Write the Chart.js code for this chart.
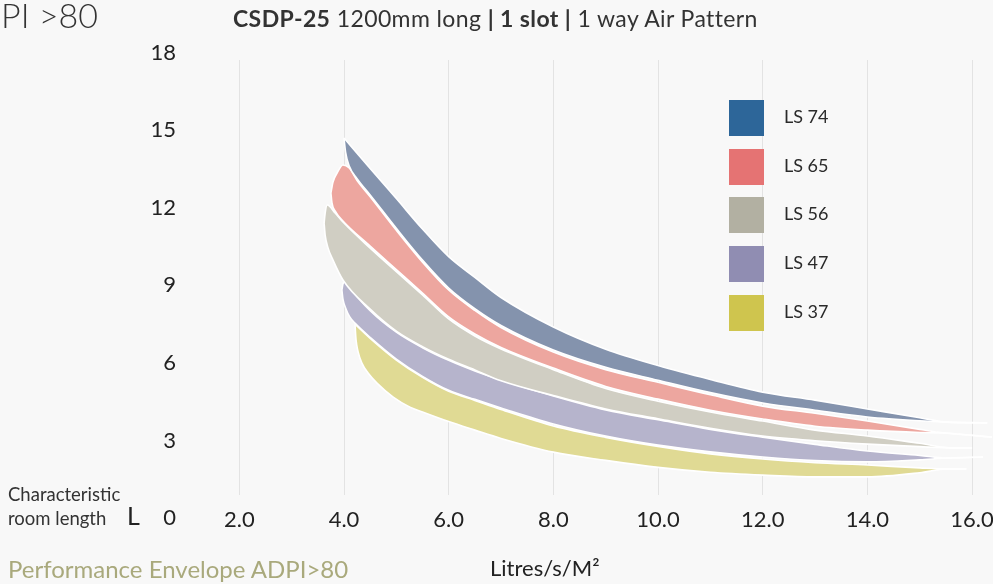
<!DOCTYPE html>
<html>
<head>
<meta charset="utf-8">
<script src="https://cdn.jsdelivr.net/npm/chart.js@4.4.1/dist/chart.umd.min.js"></script>
<style>
  body { margin: 0; background: #f8f8f8; font-family: 'Lato', sans-serif; color: #2a2a2a; }
  #wrap { position: relative; width: 993px; height: 584px; overflow: hidden; }
  #wrap canvas { position: absolute; left: 0; top: 0; }
  .txt { position: absolute; white-space: nowrap; line-height: 1; }
  #legend .sw { position: absolute; width: 35px; height: 36px; }
  #legend .lb { position: absolute; font-size: 18px; line-height: 18px; }
</style>
</head>
<body>
<div id="wrap">
  <canvas id="chart" width="993" height="584"></canvas>
  <div class="txt" style="left:1px;top:-2px;font-size:34px;font-weight:300;color:#333">PI &gt;80</div>
  <div class="txt" style="left:233px;top:7px;font-size:23px;letter-spacing:0.4px;color:#333"><b>CSDP-25</b> 1200mm long <b>| 1 slot |</b> 1 way Air Pattern</div>
  <div class="txt" style="left:8px;top:482px;font-size:18.5px;line-height:24px;color:#333">Characteristic<br>room length</div>
  <div class="txt" style="left:127px;top:503px;font-size:25px;color:#222">L</div>
  <div class="txt" style="left:8px;top:557px;font-size:24px;color:#a9a97c">Performance Envelope ADPI&gt;80</div>
  <div class="txt" style="left:490px;top:557px;font-size:22px;color:#222">Litres/s/M²</div>
  <div id="legend"></div>
</div>
<script>
// Bandas de comportamiento (limite superior / inferior) por modelo
const seriesNames = ['LS 74', 'LS 65', 'LS 56', 'LS 47', 'LS 37'];
const legendColors = ['#2d6699', '#e57373', '#b2b0a2', '#908db2', '#cfc54e'];
const bandColors = ['#8493ad', '#eda69f', '#d0cec3', '#b6b4cc', '#e0da94'];

const xTicks = [2, 4, 6, 8, 10, 12, 14, 16];
const yTicks = [0, 3, 6, 9, 12, 15, 18];

const ls74Top = [[4.00,14.70],[4.5,13.52],[5,12.36],[5.5,11.18],[6,10.11],[6.5,9.31],[7,8.53],[8,7.39],[9,6.53],[10,5.90],[11,5.36],[12,4.87],[13,4.56],[14,4.22],[15,3.88],[15.52,3.71],[16.29,3.68]];
const ls74Bottom = [[4.00,14.70],[4.03,14.16],[4.10,13.62],[4.25,13.13],[4.5,12.50],[5,11.21],[5.5,9.98],[6,8.90],[6.5,8.10],[7,7.45],[8,6.50],[9,5.83],[10,5.33],[11,4.85],[12,4.45],[13,4.17],[14,3.91],[15,3.76],[15.52,3.71],[16.29,3.68]];

const ls65Top = [[3.75,12.57],[3.79,13.00],[3.87,13.35],[3.98,13.66],[4.10,13.54],[4.25,13.06],[4.5,12.43],[5,11.13],[5.5,9.90],[6,8.82],[6.5,8.03],[7,7.37],[8,6.42],[9,5.74],[10,5.25],[11,4.77],[12,4.33],[13,4.05],[14,3.75],[15,3.43],[15.48,3.29],[16.38,3.13]];
const ls65Bottom = [[3.75,12.57],[3.77,12.19],[3.83,11.88],[3.98,11.49],[4.5,10.52],[5,9.61],[5.5,8.70],[6,7.78],[6.5,7.12],[7,6.60],[8,5.80],[9,5.09],[10,4.60],[11,4.17],[12,3.83],[13,3.55],[14,3.40],[15,3.31],[15.48,3.29],[16.38,3.13]];

const ls56Top = [[3.62,11.41],[3.64,11.80],[3.68,12.11],[3.83,11.80],[3.98,11.45],[4.5,10.44],[5,9.53],[5.5,8.63],[6,7.70],[6.5,7.04],[7,6.54],[8,5.74],[9,5.01],[10,4.52],[11,4.10],[12,3.75],[13,3.40],[14,3.17],[15,2.89],[15.63,2.71],[16.00,2.71]];
const ls56Bottom = [[3.62,11.41],[3.64,10.95],[3.69,10.48],[3.79,9.98],[3.98,9.21],[4.5,8.08],[5,7.23],[5.5,6.63],[6,6.14],[6.5,5.73],[7,5.31],[8,4.74],[9,4.22],[10,3.84],[11,3.47],[12,3.17],[13,2.99],[14,2.86],[15,2.76],[15.63,2.71],[16.00,2.71]];

const ls47Top = [[3.96,8.82],[3.98,9.05],[4.02,9.17],[4.10,8.94],[4.5,8.02],[5,7.19],[5.5,6.59],[6,6.10],[6.5,5.69],[7,5.34],[8,4.72],[9,4.18],[10,3.80],[11,3.43],[12,3.13],[13,2.85],[14,2.59],[15,2.42],[15.52,2.32],[16.21,2.36]];
const ls47Bottom = [[3.96,8.82],[3.98,8.47],[4.04,8.08],[4.11,7.78],[4.21,7.54],[4.5,6.99],[5,6.15],[5.5,5.48],[6,4.94],[6.5,4.59],[7,4.26],[8,3.64],[9,3.17],[10,2.82],[11,2.56],[12,2.36],[13,2.22],[14,2.17],[15,2.25],[15.52,2.32],[16.21,2.36]];

const ls37Top = [[4.21,7.50],[4.5,6.95],[5,6.11],[5.5,5.44],[6,4.90],[6.5,4.55],[7,4.20],[8,3.56],[9,3.12],[10,2.77],[11,2.48],[12,2.28],[13,2.14],[14,2.05],[15,1.94],[15.52,1.90],[15.89,1.90]];
const ls37Bottom = [[4.21,7.50],[4.23,6.89],[4.27,6.43],[4.34,6.00],[4.46,5.61],[4.63,5.22],[4.94,4.68],[5.26,4.29],[5.5,4.10],[6,3.73],[6.5,3.40],[7,3.08],[8,2.55],[9,2.23],[10,1.96],[11,1.77],[12,1.66],[13,1.59],[14,1.59],[15,1.75],[15.52,1.90],[15.89,1.90]];

const bands = [
  [ls74Top, ls74Bottom],
  [ls65Top, ls65Bottom],
  [ls56Top, ls56Bottom],
  [ls47Top, ls47Bottom],
  [ls37Top, ls37Bottom]
];

const toPoints = arr => arr.map(p => ({ x: p[0], y: p[1] }));

// cada banda = linea superior + linea inferior rellena hasta la anterior
const datasets = [];
bands.forEach((b, i) => {
  datasets.push({
    label: seriesNames[i] + ' top',
    data: toPoints(b[0]),
    borderColor: '#ffffff',
    borderWidth: 1.6,
    backgroundColor: bandColors[i],
    pointRadius: 0,
    cubicInterpolationMode: 'monotone',
    fill: false
  });
  datasets.push({
    label: seriesNames[i],
    data: toPoints(b[1]),
    borderColor: '#ffffff',
    borderWidth: 1.6,
    backgroundColor: bandColors[i],
    pointRadius: 0,
    cubicInterpolationMode: 'monotone',
    fill: '-1'
  });
});

const tickFont = { family: 'Lato', size: 22 };

new Chart(document.getElementById('chart'), {
  type: 'line',
  data: { datasets: datasets },
  options: {
    responsive: false,
    animation: false,
    layout: { padding: { top: 60, right: 0, left: 0, bottom: 0 } },
    plugins: {
      legend: { display: false },
      tooltip: { enabled: false }
    },
    scales: {
      x: {
        type: 'linear',
        min: 0.962,
        max: 16.40,
        afterBuildTicks: scale => { scale.ticks = xTicks.map(v => ({ value: v })); },
        afterFit: scale => {
          scale.height = 89;
          scale.paddingLeft = 0;
          scale.paddingRight = 0;
        },
        ticks: {
          font: tickFont,
          color: '#222',
          padding: 12,
          maxRotation: 0,
          callback: v => Number(v).toFixed(1)
        },
        grid: { color: '#e3e3e3', drawTicks: false },
        border: { display: false }
      },
      y: {
        type: 'linear',
        min: 0.89,
        max: 17.72,
        afterBuildTicks: scale => { scale.ticks = yTicks.map(v => ({ value: v })); },
        afterFit: scale => {
          scale.width = 185;
          scale.paddingTop = 0;
          scale.paddingBottom = 0;
        },
        ticks: {
          font: tickFont,
          color: '#222',
          padding: 1
        },
        grid: { display: false },
        border: { display: false }
      }
    }
  }
});

// leyenda a mano, a la derecha
const legend = document.getElementById('legend');
const legendTops = [100, 149, 197, 246, 295];
seriesNames.forEach((name, i) => {
  const sw = document.createElement('div');
  sw.className = 'sw';
  sw.style.left = '729px';
  sw.style.top = legendTops[i] + 'px';
  sw.style.background = legendColors[i];
  legend.appendChild(sw);
  const lb = document.createElement('div');
  lb.className = 'lb';
  lb.style.left = '784px';
  lb.style.top = (legendTops[i] + 7) + 'px';
  lb.textContent = name;
  legend.appendChild(lb);
});
</script>
</body>
</html>
